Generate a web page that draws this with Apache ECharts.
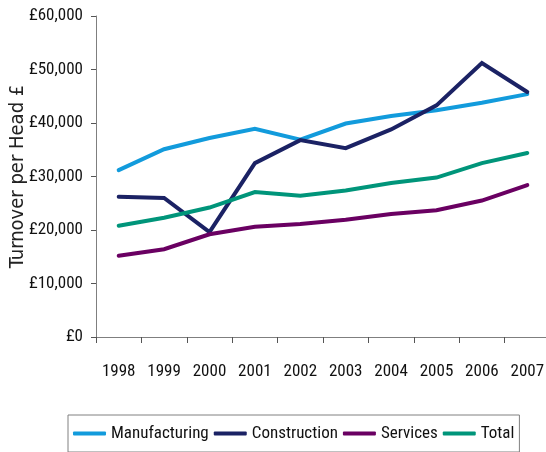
<!DOCTYPE html>
<html>
<head>
<meta charset="utf-8">
<title>Turnover per Head</title>
<script src="https://cdn.jsdelivr.net/npm/echarts@6/dist/echarts.min.js"></script>
<style>
  html, body { margin: 0; padding: 0; background: #ffffff; }
  #chart { width: 546px; height: 452px; }
</style>
</head>
<body>
<div id="chart"></div>
<script>
// Turnover per head by sector, 1998-2007 (GBP)
const years = ['1998', '1999', '2000', '2001', '2002', '2003', '2004', '2005', '2006', '2007'];
const manufacturing = [31200, 35100, 37200, 38900, 36900, 39900, 41300, 42400, 43800, 45400];
const construction  = [26200, 26000, 19600, 32500, 36800, 35300, 38800, 43300, 51200, 45800];
const services      = [15200, 16400, 19200, 20600, 21100, 21900, 23000, 23700, 25500, 28400];
const total         = [20800, 22300, 24200, 27100, 26400, 27400, 28800, 29800, 32500, 34400];

// Pick the first narrow face that is actually installed.
function pickFont(candidates, fallback) {
  const ctx = document.createElement('canvas').getContext('2d');
  const probe = 'Manufacturing 1998 £60,000';
  ctx.font = '18px monospace';
  const base = ctx.measureText(probe).width;
  for (const fam of candidates) {
    ctx.font = '18px "' + fam + '", monospace';
    if (Math.abs(ctx.measureText(probe).width - base) > 0.5) return fam;
  }
  return fallback;
}
const narrowFamily = pickFont(
  ['Liberation Sans Narrow', 'Arial Narrow', 'Noto Sans ExtraCondensed', 'Noto Sans Condensed',
   'Roboto Condensed', 'Open Sans Condensed', 'DejaVu Sans Condensed'],
  'sans-serif');
const narrow = '"' + narrowFamily + '", sans-serif';
const textSize = 17;
const axisGrey = '#7f7f7f';

function lineSeries(name, data, color) {
  return {
    name: name,
    type: 'line',
    data: data,
    symbol: 'none',
    lineStyle: { width: 4, color: color, cap: 'round', join: 'miter' },
    itemStyle: { color: color },
    emphasis: { disabled: true }
  };
}

const chart = echarts.init(document.getElementById('chart'), null, { renderer: 'canvas' });
chart.setOption({
  animation: false,
  backgroundColor: '#ffffff',
  grid: { left: 96, top: 16, width: 454, bottom: 115, containLabel: false, outerBoundsMode: 'none' },
  legend: {
    left: 68,
    top: 415,
    padding: [10, 5, 10, 5],
    borderColor: '#808080',
    borderWidth: 1,
    itemGap: 5,
    itemWidth: 33,
    itemHeight: 4,
    icon: 'roundRect',
    textStyle: { fontFamily: narrow, fontSize: textSize, color: '#111111' },
    data: ['Manufacturing', 'Construction', 'Services', 'Total']
  },
  xAxis: {
    type: 'category',
    data: years,
    boundaryGap: true,
    axisLine: { show: true, lineStyle: { color: axisGrey, width: 1 } },
    axisTick: { show: true, alignWithLabel: false, interval: 0, length: 6, lineStyle: { color: '#555555' } },
    axisLabel: { interval: 0, margin: 26, fontFamily: narrow, fontSize: textSize, color: '#111111' },
    splitLine: { show: false }
  },
  yAxis: {
    type: 'value',
    min: 0,
    max: 60000,
    interval: 10000,
    name: 'Turnover per Head £',
    nameLocation: 'middle',
    nameGap: 68,
    nameMoveOverlap: false,
    nameRotate: 90,
    nameTextStyle: { fontFamily: '"DejaVu Sans Condensed", "DejaVu Sans", sans-serif', fontSize: 20, color: '#222222' },
    axisLine: { show: true, lineStyle: { color: axisGrey, width: 1 } },
    axisTick: { show: true, length: 5, lineStyle: { color: '#555555' } },
    axisLabel: {
      margin: 13,
      fontFamily: narrow,
      fontSize: textSize,
      color: '#111111',
      formatter: function (v) { return '£' + v.toLocaleString('en-GB'); }
    },
    splitLine: { show: false }
  },
  series: [
    lineSeries('Manufacturing', manufacturing, '#129bdc'),
    lineSeries('Construction', construction, '#1b2264'),
    lineSeries('Services', services, '#6a0062'),
    lineSeries('Total', total, '#00957a')
  ]
});
</script>
</body>
</html>
